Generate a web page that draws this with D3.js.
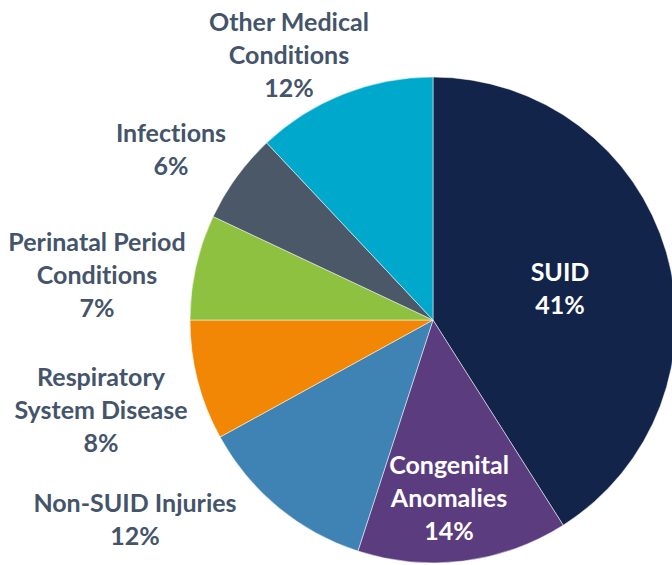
<!DOCTYPE html>
<html><head><meta charset="utf-8">
<script src="https://cdn.jsdelivr.net/npm/d3@7"></script>
<style>html,body{margin:0;padding:0;background:#fff;}svg{display:block;}text{font-variant-ligatures:none;font-feature-settings:"liga" 0;}</style>
</head><body>
<svg id="c" width="672" height="565"></svg>
<script>
const categories = ["SUID","Congenital Anomalies","Non-SUID Injuries","Respiratory System Disease","Perinatal Period Conditions","Infections","Other Medical Conditions"];
const values = [41,14,12,8,7,6,12];
const colors = ["#13244B","#5B3D7F","#3F82B4","#F28705","#8DC13F","#4A5868","#00A9CC"];
// label text lines (without the percentage)
const labelLines = [["SUID"],["Congenital","Anomalies"],["Non-SUID Injuries"],["Respiratory","System Disease"],["Perinatal Period","Conditions"],["Infections"],["Other Medical","Conditions"]];
// layout: label block centres (first-line centre) and text colour
const labelLayout = [
  {x:560,y:272,fill:"#fff"},
  {x:449,y:465,fill:"#fff"},
  {x:135,y:503,fill:"#44546A"},
  {x:101,y:377,fill:"#44546A"},
  {x:97,y:242,fill:"#44546A"},
  {x:171,y:133,fill:"#44546A"},
  {x:289,y:22,fill:"#44546A"}
];
const cx = 433, cy = 320, R = 243, lineH = 33;

const svg = d3.select("#c");
const pie = d3.pie().sort(null).value(d=>d)(values);
const arc = d3.arc().innerRadius(0).outerRadius(R);
const g = svg.append("g").attr("transform",`translate(${cx},${cy})`);
g.selectAll("path").data(pie).join("path")
  .attr("d",arc).attr("fill",(d,i)=>colors[i])
  .attr("stroke","#fff").attr("stroke-width",0.5);

const total = d3.sum(values);
const fmt = d3.format(".0%");
labelLayout.forEach((L,i)=>{
  const lines = labelLines[i].concat([fmt(values[i]/total)]);
  const t = svg.append("text")
    .attr("text-anchor","middle")
    .attr("font-family","Lato, 'Open Sans', sans-serif")
    .attr("font-weight","bold")
    .attr("font-size",25)
    .attr("fill",L.fill);
  lines.forEach((s,j)=>{
    t.append("tspan").attr("x",L.x).attr("y",L.y + j*lineH).attr("dy","0.35em").text(s);
  });
});
</script>
</body></html>
